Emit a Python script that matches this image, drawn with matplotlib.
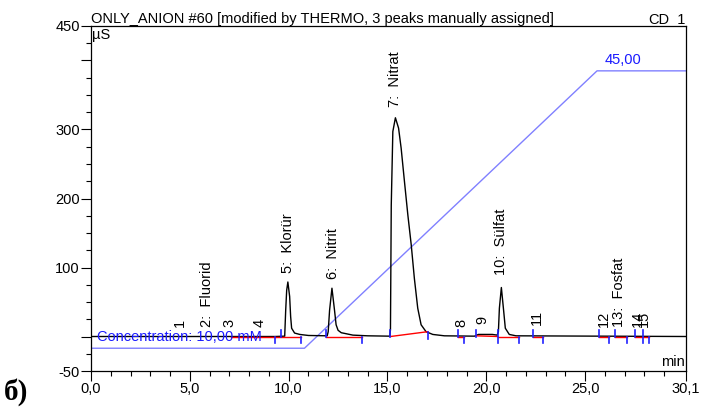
import numpy as np
import matplotlib
matplotlib.use("Agg")
import matplotlib.pyplot as plt
from matplotlib.ticker import FixedLocator, MultipleLocator

plt.rcParams["font.family"] = ["Liberation Sans", "DejaVu Sans"]

# chromatogram trace (min, uS)
trace_t = [0.0, 4.0, 9.3, 9.8, 9.85, 9.9, 9.96, 10.05, 10.1, 10.15, 10.3, 10.56, 11.0,
           11.95, 12.0, 12.07, 12.19, 12.32, 12.4, 12.5, 12.66, 13.25, 14.0, 15.12,
           15.15, 15.19, 15.27, 15.4, 15.56, 15.69, 15.86, 16.03, 16.2, 16.36, 16.53,
           16.7, 16.95, 17.29, 17.88, 19.4, 19.6, 20.3, 20.55, 20.61, 20.66, 20.76,
           20.88, 20.96, 21.16, 21.5, 30.1]
trace_y = [0, 0, 0, 0.5, 38, 67, 79, 58, 29, 12, 5, 3, 1.5,
           1, 7, 38, 70, 38, 17, 9, 5.5, 2, 1, 0.5,
           10, 190, 297, 317, 302, 273, 224, 176, 133, 84, 41,
           17, 7, 3, 1, 0.5, 3, 3, 2, 7, 41, 71,
           36, 12, 3, 1, 0]

# gradient (concentration program)
grad_t = [0.0, 10.8, 25.6, 30.1]
grad_y = [-17, -17, 385, 385]

# peak labels
peak_t = [4.5, 5.86, 7.02, 8.54, 9.95, 12.22, 15.4, 18.74, 19.8, 20.76, 22.58,
          25.96, 26.72, 27.68, 27.98]
peak_label_y = [14, 14, 14, 14, 92, 83, 333, 14, 18, 89, 16, 14, 14, 14, 14]
peak_names = ["1", "2:  Fluorid", "3", "4", "5:  Klorür", "6:  Nitrit", "7:  Nitrat",
              "8", "9", "10:  Sülfat", "11", "12", "13:  Fosfat", "14", "15"]

# integration baselines (start, y0, end, y1)
base_t0 = [7.1, 9.33, 11.9, 15.15, 18.55, 19.48, 20.57, 22.34, 25.71, 26.52, 27.53]
base_y0 = [0, 0, 0, 0, 0, 1, 0, 0, 0, 0, 0]
base_t1 = [9.33, 10.64, 13.72, 17.04, 18.89, 20.57, 21.67, 22.88, 26.21, 27.1, 28.23]
base_y1 = [0, 0, 0, 7, 0, 0, 0, 0, 0, 0, 0]

# peak delimiters: +1 up, -1 down, 0 both
mark_t = [9.33, 9.63, 10.64, 11.9, 13.72, 15.15, 17.04, 18.55, 18.89, 19.48, 20.57,
          21.67, 22.34, 22.88, 25.71, 26.21, 26.52, 27.1, 27.53, 27.9, 28.23]
mark_y = [0, 0, 0, 0, 0, 0, 7, 0, 0, 0, 0, 0, 0, 0, 0, 0, 0, 0, 0, 0, 0]
mark_dir = [-1, 1, -1, 1, -1, 1, -1, 1, -1, 1, 0, -1, 1, -1, 1, -1, 1, -1, 1, 0, -1]

fig = plt.figure(figsize=(7.02, 4.12), dpi=100)
ax = fig.add_axes([0.1296, 0.0995, 0.9772 - 0.1296, 0.9369 - 0.0995])

ax.plot(grad_t, grad_y, color="#8080ff", lw=1.0, zorder=1)
ax.plot(trace_t, trace_y, color="black", lw=1.0, zorder=2)
for t0, y0, t1, y1 in zip(base_t0, base_y0, base_t1, base_y1):
    ax.plot([t0, t1], [y0, y1], color="red", lw=1.0, zorder=3)
for t, y, d in zip(mark_t, mark_y, mark_dir):
    lo = y - 10 if d <= 0 else y
    hi = y + 10 if d >= 0 else y
    ax.plot([t, t], [lo, hi], color="#2020ff", lw=1.2, zorder=4)

for t, y, s in zip(peak_t, peak_label_y, peak_names):
    ax.text(t, y, s, rotation=90, ha="center", va="bottom", fontsize=10.5)

ax.text(0.3, 0, "Concentration: 10,00 mM", color="#1a1aff", fontsize=10.5,
        ha="left", va="center", zorder=5)
ax.text(26.0, 390, "45,00", color="#1a1aff", fontsize=10.5, ha="left", va="bottom")

ax.set_xlim(0, 30.1)
ax.set_ylim(-50, 450)

xt = [0, 5, 10, 15, 20, 25, 30.1]
ax.xaxis.set_major_locator(FixedLocator(xt))
ax.set_xticklabels(["0,0", "5,0", "10,0", "15,0", "20,0", "25,0", "30,1"])
ax.xaxis.set_minor_locator(FixedLocator(list(range(1, 30))))
yt = [-50, 0, 100, 200, 300, 400, 450]
ax.yaxis.set_major_locator(FixedLocator(yt))
ax.set_yticklabels(["-50", "", "100", "200", "300", "", "450"])
ax.yaxis.set_minor_locator(MultipleLocator(25))
ax.tick_params(which="major", length=7, width=0.8, labelsize=10.5, pad=1)
ax.tick_params(which="minor", length=3.5, width=0.8)
for sp in ax.spines.values():
    sp.set_linewidth(0.9)

ax.text(0.002, 0.995, "µS", transform=ax.transAxes, ha="left", va="top", fontsize=10.5)
ax.text(0.998, 0.005, "min", transform=ax.transAxes, ha="right", va="bottom", fontsize=10.5)
ax.text(0.0, 1.0, "ONLY_ANION #60 [modified by THERMO, 3 peaks manually assigned]",
        transform=ax.transAxes, ha="left", va="bottom", fontsize=10.5)
ax.text(1.0, 1.0, "CD_1", transform=ax.transAxes, ha="right", va="bottom", fontsize=10.5)

fig.text(0.006, 0.015, "б)", fontsize=21, weight="bold",
         family=["Liberation Serif", "DejaVu Serif"], ha="left", va="bottom")

fig.savefig("out.png", dpi=100)
